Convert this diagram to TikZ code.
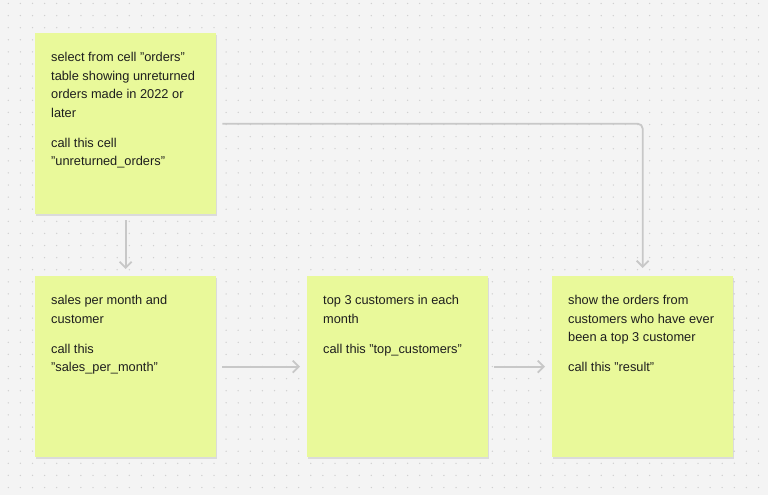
\documentclass[tikz,border=0pt]{standalone}
\usepackage{fontspec}
\setmainfont{Liberation Sans}
\usepackage{xcolor}
\usetikzlibrary{arrows.meta, positioning, shadows}
\definecolor{stickyyellow}{HTML}{E9F99A}
\definecolor{canvasgray}{HTML}{F4F4F4}
\definecolor{griddot}{HTML}{D0D0D0}
\definecolor{linkgray}{HTML}{C8C8C8}
\definecolor{inkdark}{HTML}{1E1E1E}

\newcommand{\stickytext}[1]{\parbox[t][149pt][t]{149pt}{\raggedright\rule{0pt}{12.5pt}#1}}
\newcommand{\dq}{\symbol{34}}

\begin{document}
\begin{tikzpicture}[
  x=1pt, y=-1pt,
  every node/.style={font=\fontsize{12.8}{18.5}\selectfont, text=inkdark},
  sticky/.style={fill=stickyyellow, anchor=north west, inner sep=16pt,
                 minimum width=181pt, minimum height=181pt,
                 drop shadow={shadow xshift=0.6pt, shadow yshift=-1.5pt,
                              opacity=0.10, fill=black}},
  link/.style={draw=linkgray, line width=1.8pt, shorten <=6pt, shorten >=7pt,
               -{Straight Barb[length=6pt, width=12pt]}}
]
%% canvas
\fill[canvasgray] (0,0) rectangle (768,495);
\useasboundingbox (0,0) rectangle (768,495);
\foreach \gx in {8.3,20.4,...,766}
  \foreach \gy in {3.5,15.6,...,494}
    \fill[griddot] (\gx,\gy) circle (0.75pt);

%% notes
\node[sticky] (unret)   at (35,33)  {\stickytext{select from cell \dq orders\dq\\
  table showing unreturned\\ orders made in 2022 or\\ later\\[11.5pt]
  call this cell\\ \dq unreturned\_orders\dq}};
\node[sticky] (sales)   at (35,276) {\stickytext{sales per month and\\
  customer\\[11.5pt] call this\\ \dq sales\_per\_month\dq}};
\node[sticky] (topcust) at (307,276) {\stickytext{top 3 customers in each\\
  month\\[11.5pt] call this \dq top\_customers\dq}};
\node[sticky] (result)  at (552,276) {\stickytext{show the orders from\\
  customers who have ever\\ been a top 3 customer\\[11.5pt]
  call this \dq result\dq}};

%% links
\foreach \a/\b in {unret/sales,sales/topcust,topcust/result}
  \draw[link] (\a)--(\b);
\draw[link, rounded corners=5pt, shorten >=8pt] (unret.east) -| (result.north);
\end{tikzpicture}
\end{document}
